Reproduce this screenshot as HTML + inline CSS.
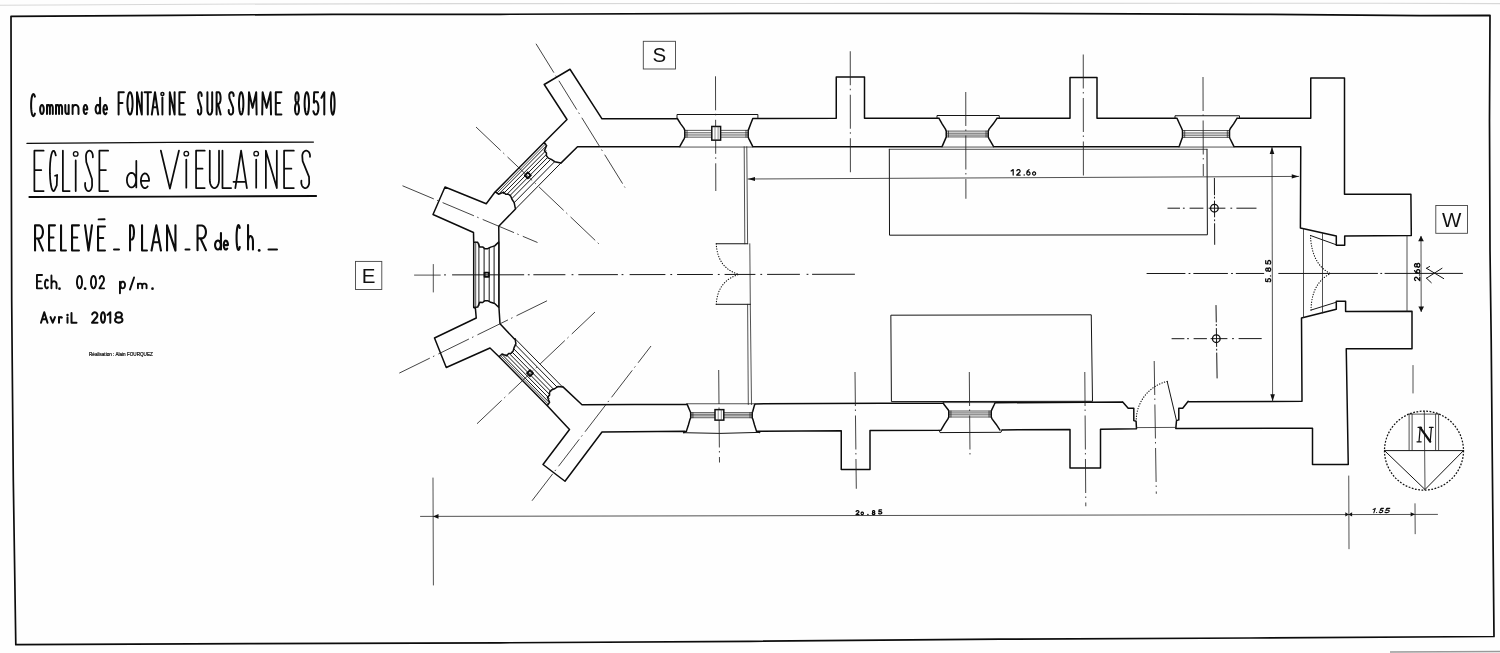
<!DOCTYPE html>
<html><head><meta charset="utf-8"><title>Eglise de Vieulaines - plan</title>
<style>html,body{margin:0;padding:0;background:#fefefe;}body{width:1500px;height:653px;overflow:hidden;font-family:"Liberation Sans",sans-serif;}svg{display:block}</style>
</head><body>
<svg style="will-change:transform" width="1500" height="653" viewBox="0 0 1500 653" font-family="Liberation Sans, sans-serif">
<desc>Commune de FONTAINE SUR SOMME 80510 - EGLISE de VIEULAINES - RELEVE PLAN R de Ch. - Ech. 0.02 p/m. - Avril 2018</desc>
<rect width="1500" height="653" fill="#fefefe"/>
<path d="M0 5.2 L200 4.2 L460 3.6 L1378 3.2 L1500 3.6" stroke="#d8d8d8" stroke-width="1.1" fill="none"/>
<path d="M1390 652 L1500 651.5" stroke="#999" stroke-width="1.5" fill="none"/>
<path d="M11.00 16.30 L170.00 15.30 L333.00 14.30 L500.00 14.30 L750.00 13.40 L1000.00 13.40 L1250.00 14.30 L1420.00 15.60 L1490.00 15.30 L1489.50 120.00 L1490.00 250.00 L1491.20 340.00 L1492.00 430.00 L1494.00 636.50 L1250.00 638.00 L1000.00 639.20 L750.00 641.30 L500.00 642.80 L250.00 643.60 L15.80 644.70 L13.30 480.00 L12.20 360.00 L11.70 300.00 L11.20 120.00Z" fill="none" stroke="#0c0c0c" stroke-width="1.7" stroke-linejoin="round" stroke-linecap="round" />
<path d="M544.30 142.30 L567.00 119.50 L544.25 84.50 L570.00 69.25 L602.00 118.80 L677.00 118.80 M560.90 163.10 L577.50 146.75 L679.80 146.60 M495.30 191.90 L495.00 192.00 L486.25 203.75 L445.00 187.00 L433.00 214.50 L473.50 232.50 L473.70 241.90 M515.50 209.00 L498.75 226.25 L498.90 241.90 M495.30 191.90 L498.64 194.21 L503.54 192.09 L505.70 194.18 L508.49 194.20 L510.78 196.15 L511.95 199.23 L514.17 202.68 L515.49 209.03 M544.30 142.30 L546.53 145.73 L544.42 150.72 L546.45 152.93 L546.44 155.79 L548.33 158.15 L551.34 159.37 L554.70 161.66 L560.90 163.06 M495.30 191.90 L544.30 142.30 M473.70 307.50 L477.70 307.10 L479.70 302.30 L482.70 302.50 L484.70 300.70 L487.70 300.70 L490.70 302.30 L494.70 303.50 L498.90 307.50 M473.70 241.90 L477.70 242.30 L479.70 247.10 L482.70 246.90 L484.70 248.70 L487.70 248.70 L490.70 247.10 L494.70 245.90 L498.90 241.90 M473.70 307.50 L473.70 241.90 M498.90 241.90 L498.90 307.50 M499.10 356.70 L490.00 348.00 L446.25 367.50 L434.50 338.00 L476.25 318.00 L475.40 308.40 L473.70 307.50 M498.90 306.70 L500.00 323.75 L514.40 339.10 M547.30 405.70 L549.57 402.30 L547.48 397.32 L549.53 395.13 L549.54 392.29 L551.45 389.95 L554.48 388.76 L557.87 386.50 L562.59 387.02 M499.10 356.70 L502.05 353.99 L506.74 355.91 L508.60 353.53 L511.20 353.31 L513.19 351.06 L514.07 347.68 L515.89 343.83 L515.09 338.73 M547.30 405.70 L499.10 356.70 M547.30 405.70 L569.50 429.50 L543.00 464.50 L565.00 481.25 L602.00 432.00 L685.00 431.30 M562.70 386.60 L582.00 404.70 L687.00 404.20 M677.30 118.50 L680.67 123.84 L684.00 128.39 L684.80 130.37 L684.80 137.15 L684.20 138.56 L680.40 145.34 L679.80 146.75 M752.80 118.50 L750.73 123.84 L749.00 128.39 L748.20 130.37 L748.20 137.15 L748.80 138.56 L752.20 145.34 L752.80 146.75 M752.80 118.50 L836.25 118.30 L836.25 77.00 L864.50 77.00 L864.50 118.30 L939.00 118.30 M752.80 146.75 L942.00 146.75 M939.00 118.30 L942.26 124.06 L945.45 129.11 L946.25 131.10 L946.25 136.93 L945.65 138.36 L942.60 145.33 L942.00 146.75 M997.00 118.30 L993.06 124.06 L989.05 129.11 L988.25 131.10 L988.25 136.93 L988.85 138.36 L992.90 145.33 L993.50 146.75 M997.00 118.30 L1070.00 118.30 L1070.00 77.50 L1097.00 77.50 L1097.00 118.30 L1177.00 118.30 M993.50 146.75 L1179.00 146.75 M1177.00 118.30 L1179.47 123.81 L1181.70 128.54 L1182.50 130.53 L1182.50 137.36 L1181.90 138.78 L1179.60 145.33 L1179.00 146.75 M1237.00 118.30 L1233.62 123.81 L1230.30 128.54 L1229.50 130.53 L1229.50 137.36 L1230.10 138.78 L1233.40 145.33 L1234.00 146.75 M1237.00 118.30 L1310.75 118.30 L1310.75 78.00 L1344.50 78.00 L1344.50 194.25 L1410.90 194.25 L1411.30 235.50 L1344.70 236.00 L1344.70 245.30 L1336.30 245.30 L1336.30 236.00 L1300.40 228.10 L1300.75 146.75 L1234.00 146.75 M1188.20 401.84 L1302.00 401.25 L1301.50 318.00 L1336.30 309.30 L1336.30 301.30 L1345.60 301.30 L1345.60 311.40 L1412.00 311.30 L1412.00 348.75 L1346.25 348.75 L1348.25 464.50 L1312.50 464.50 L1312.50 428.25 L1175.80 428.40 M1188.20 401.30 L1182.70 408.20 L1178.80 408.20 L1178.80 419.90 L1176.50 420.60 L1175.80 428.40 M1122.70 402.00 L1128.20 408.20 L1133.80 408.20 L1133.80 420.60 L1136.10 421.30 L1136.50 428.70 M1136.50 428.70 L1100.50 429.37 L1100.50 468.00 L1070.00 468.00 L1070.00 429.53 L1002.00 429.90 M1122.70 402.00 L995.00 402.75 M941.00 430.06 L944.49 424.18 L947.95 418.91 L948.75 417.01 L948.75 411.02 L948.15 409.66 L943.85 404.23 L943.25 402.87 M1000.00 430.06 L996.06 424.18 L992.05 418.91 L991.25 417.01 L991.25 411.02 L991.85 409.66 L994.40 404.23 L995.00 402.87 M941.00 430.21 L870.00 430.58 L870.00 469.50 L841.25 469.50 L841.25 430.74 L756.40 431.19 L759.60 432.50 M943.25 403.00 L755.00 403.88 M686.50 430.88 L688.39 424.96 L689.90 419.61 L690.70 417.73 L690.70 412.63 L690.10 411.29 L687.60 405.39 L687.00 404.05 M756.40 430.88 L754.51 424.96 L753.00 419.61 L752.20 417.73 L752.20 412.63 L752.80 411.29 L754.40 405.39 L755.00 404.05 M686.50 431.30 L683.80 432.70" fill="none" stroke="#0c0c0c" stroke-width="1.5" stroke-linejoin="round" stroke-linecap="round" />
<path d="M515.49 209.03 L560.90 163.06 M498.64 194.21 L546.53 145.73 M503.46 193.60 L545.89 150.65 M507.05 194.23 L546.48 154.32 M510.02 195.50 L547.70 157.36 M512.04 198.43 L550.55 159.45 M514.02 202.83 L554.84 161.51 M498.90 307.50 L498.90 241.90 M478.90 305.66 L478.90 243.74 M484.10 301.53 L484.10 247.87 M489.20 301.37 L489.20 248.03 M494.10 303.47 L494.10 245.93 M562.59 387.02 L515.09 338.73 M549.34 402.64 L501.75 354.26 M549.06 398.22 L505.81 354.26 M549.37 394.26 L509.41 353.64 M550.61 391.24 L512.08 352.07 M553.28 388.97 L513.97 349.00 M557.12 387.16 L515.34 344.69 M677.00 118.50 L677.00 114.50 L757.90 114.50 L757.90 118.50 M937.00 118.30 L937.00 115.50 L999.25 115.50 L999.25 118.30 M1175.00 118.30 L1175.00 115.75 L1239.50 115.75 L1239.50 118.30 M939.25 430.21 L940.00 432.60 L1001.00 432.30 L1002.00 429.90 M683.80 432.70 L720.00 433.40 L759.60 432.40 M1310.50 235.50 L1336.30 244.80 M1311.00 310.10 L1336.30 302.20 M716.25 243.75 L747.80 243.75 M716.25 304.30 L750.30 304.30 M1167.20 381.40 L1176.50 420.60 M889.30 149.30 L889.50 235.20 L1207.40 234.80 L1207.00 149.30 M891.25 315.20 L1091.25 314.80 L1092.50 401.30 L891.80 401.60Z M1426.50 268.30 L1443.70 278.60 M1442.00 268.30 L1426.50 278.20 M1426.50 268.30 L1429.60 266.50 M1426.50 278.20 L1431.30 282.70 M1384.50 450.60 L1463.50 450.60 M1384.50 450.60 L1425.00 489.50 L1463.50 450.60" fill="none" stroke="#151515" stroke-width="1.0" stroke-linejoin="round" stroke-linecap="round" />
<path d="M530.78 175.33 L527.79 172.38 L524.84 175.37 L527.83 178.32Z M488.80 272.60 L484.60 272.60 L484.60 276.80 L488.80 276.80Z M530.07 370.21 L527.07 373.16 L530.02 376.15 L533.01 373.21Z" fill="none" stroke="#0c0c0c" stroke-width="1.9" stroke-linejoin="round" stroke-linecap="round" />
<path d="M684.80 130.37 L748.20 130.37 M684.80 132.81 L748.20 132.81 M684.80 134.98 L748.20 134.98 M684.80 137.15 L748.20 137.15 M946.25 131.10 L988.25 131.10 M946.25 133.20 L988.25 133.20 M946.25 135.07 L988.25 135.07 M946.25 136.93 L988.25 136.93 M1182.50 130.53 L1229.50 130.53 M1182.50 132.99 L1229.50 132.99 M1182.50 135.18 L1229.50 135.18 M1182.50 137.36 L1229.50 137.36 M948.75 417.01 L991.25 417.01 M948.75 414.85 L991.25 414.85 M948.75 412.94 L991.25 412.94 M948.75 411.02 L991.25 411.02 M690.70 417.73 L752.20 417.73 M690.70 415.90 L752.20 415.90 M690.70 414.26 L752.20 414.26 M690.70 412.63 L752.20 412.63" fill="none" stroke="#111" stroke-width="0.7" stroke-linejoin="round" stroke-linecap="round" />
<path d="M496.97 193.06 L545.42 144.01 M475.70 307.30 L475.70 242.10 M548.32 404.17 L500.43 355.48 M687.00 130.37 L687.00 137.15 M746.00 130.37 L746.00 137.15 M679.80 147.05 L752.80 147.05 M948.45 131.10 L948.45 136.93 M986.05 131.10 L986.05 136.93 M942.00 147.05 L993.50 147.05 M1184.70 130.53 L1184.70 137.36 M1227.30 130.53 L1227.30 137.36 M1179.00 147.05 L1234.00 147.05 M950.95 417.01 L950.95 411.02 M989.05 417.01 L989.05 411.02 M943.25 402.57 L995.00 402.57 M692.90 417.73 L692.90 412.63 M750.00 417.73 L750.00 412.63 M687.00 403.75 L755.00 403.75 M1303.50 229.00 L1303.50 317.50 M1322.50 233.00 L1322.50 313.00 M1407.00 235.70 L1407.00 311.30 M744.20 146.75 L744.80 243.75 M746.80 146.75 L747.60 243.75 M749.80 243.75 L750.30 304.30 M747.60 304.30 L748.30 404.50 M750.30 304.30 L751.50 404.50 M1136.50 427.60 L1175.80 427.40 M889.30 149.30 L1207.00 149.30 M414.50 275.10 L440.30 275.10 M433.30 264.50 L433.30 292.00 M1413.00 365.50 L1413.00 393.00 M748.00 179.00 L1298.75 176.40 M1272.00 146.75 L1272.60 401.25 M420.50 516.40 L1437.50 514.40 M433.00 478.00 L433.40 585.00 M1348.75 476.00 L1349.00 548.75 M1415.00 503.75 L1415.20 533.75 M1421.00 236.50 L1421.20 311.50 M1424.30 411.20 L1425.00 489.50 M1409.10 414.10 L1409.10 450.40 M1412.10 414.10 L1412.10 450.40 M1435.60 414.10 L1435.60 450.40 M1438.60 414.10 L1438.60 450.40 M1409.10 414.10 L1438.60 414.10" fill="none" stroke="#262626" stroke-width="0.8" stroke-linejoin="round" stroke-linecap="round" />
<path d="M1310.50 235.50 L1310.64 238.30 L1310.88 241.01 L1311.20 243.62 L1311.62 246.14 L1312.12 248.57 L1312.71 250.90 L1313.39 253.13 L1314.16 255.28 L1315.02 257.32 L1315.97 259.27 L1317.01 261.13 L1318.14 262.90 L1319.36 264.56 L1320.67 266.14 L1322.07 267.62 L1323.56 269.00 L1325.13 270.29 L1326.80 271.49 L1328.55 272.59 L1330.40 273.60 M1311.00 310.10 L1311.10 307.43 L1311.28 304.86 L1311.56 302.37 L1311.94 299.97 L1312.40 297.66 L1312.96 295.43 L1313.60 293.30 L1314.34 291.25 L1315.18 289.29 L1316.10 287.43 L1317.12 285.64 L1318.22 283.95 L1319.42 282.35 L1320.72 280.83 L1322.10 279.41 L1323.58 278.07 L1325.14 276.82 L1326.80 275.66 L1328.56 274.58 L1330.40 273.60 M716.25 243.75 L716.42 246.13 L716.70 248.42 L717.07 250.62 L717.55 252.74 L718.12 254.76 L718.80 256.69 L719.58 258.54 L720.45 260.29 L721.42 261.96 L722.50 263.54 L723.68 265.03 L724.95 266.42 L726.33 267.73 L727.80 268.95 L729.38 270.08 L731.05 271.13 L732.82 272.08 L734.70 272.94 L736.68 273.72 L738.75 274.40 M716.25 304.30 L716.42 302.01 L716.70 299.81 L717.07 297.69 L717.55 295.65 L718.12 293.69 L718.80 291.82 L719.58 290.04 L720.45 288.33 L721.42 286.71 L722.50 285.17 L723.68 283.72 L724.95 282.35 L726.33 281.07 L727.80 279.86 L729.38 278.74 L731.05 277.71 L732.82 276.76 L734.70 275.89 L736.68 275.10 L738.75 274.40 M1167.20 381.39 L1165.50 381.83 L1163.83 382.34 L1162.18 382.93 L1160.55 383.59 L1158.96 384.32 L1157.40 385.11 L1155.88 385.98 L1154.39 386.91 L1152.95 387.90 L1151.55 388.95 L1150.20 390.07 L1148.90 391.24 L1147.65 392.47 L1146.45 393.75 L1145.31 395.08 L1144.23 396.46 L1143.21 397.88 L1142.26 399.35 L1141.37 400.86 L1140.54 402.40 L1139.79 403.98 L1139.10 405.59 L1138.48 407.23 L1137.94 408.90 L1137.46 410.58 L1137.07 412.29 L1136.74 414.01 L1136.49 415.75 L1136.32 417.49 L1136.22 419.24" fill="none" stroke="#111" stroke-width="1.15" stroke-linejoin="round" stroke-linecap="round" stroke-dasharray="0.3 2.3"/>
<path d="M1167.90 208.20 L1179.60 208.20 M1190.00 208.20 L1203.00 208.20 M1209.00 208.20 L1225.00 208.20 M1236.80 208.20 L1256.10 208.20 M1183.30 208.20 L1184.30 208.20 M1230.80 208.20 L1231.80 208.20 M1214.40 178.30 L1214.48 194.80 M1214.50 201.00 L1214.58 216.90 M1214.61 223.70 L1214.70 244.40 M1214.49 197.10 L1214.49 198.10 M1214.59 219.80 L1214.59 220.80 M1172.00 338.70 L1184.00 338.69 M1194.00 338.68 L1206.50 338.66 M1211.00 338.66 L1227.00 338.64 M1239.00 338.62 L1261.30 338.60 M1187.50 338.68 L1188.50 338.68 M1232.50 338.63 L1233.50 338.63 M1216.01 305.50 L1216.26 322.00 M1216.35 328.50 L1216.63 346.50 M1216.72 353.00 L1217.10 378.00 M1216.30 324.50 L1216.30 325.50 M1216.67 349.20 L1216.67 350.20 M452.50 274.89 L523.75 274.78 M533.75 274.76 L565.00 274.71 M578.75 274.69 L617.50 274.63 M630.00 274.61 L665.00 274.55 M677.50 274.53 L712.50 274.48 M725.00 274.46 L755.00 274.41 M767.50 274.39 L799.50 274.34 M812.50 274.32 L854.50 274.25 M444.50 274.90 L445.50 274.90 M528.25 274.77 L529.25 274.77 M572.00 274.70 L573.00 274.70 M622.00 274.62 L623.00 274.62 M670.75 274.54 L671.75 274.54 M718.25 274.47 L719.25 274.47 M760.75 274.40 L761.75 274.40 M807.00 274.33 L808.00 274.33 M1147.00 273.50 L1185.00 273.49 M1193.75 273.49 L1227.50 273.47 M1236.25 273.47 L1263.75 273.46 M1278.75 273.46 L1377.50 273.43 M1385.00 273.42 L1462.50 273.40 M1189.00 273.49 L1190.00 273.49 M1231.50 273.47 L1232.50 273.47 M1380.75 273.43 L1381.75 273.43" fill="none" stroke="#181818" stroke-width="1.0" stroke-linejoin="round" stroke-linecap="round" />
<path d="M715.50 76.30 L715.80 191.00 M850.25 51.25 L850.40 175.00 M965.75 92.00 L965.90 198.75 M1083.25 54.50 L1083.40 177.50 M1203.00 77.00 L1203.30 176.00 M718.70 370.00 L719.50 462.50 M855.00 372.00 L856.30 488.75 M969.30 372.00 L970.00 455.00 M1084.80 372.00 L1085.80 506.25 M1154.20 361.00 L1156.30 493.75 M536.00 43.75 L625.00 187.50 M476.00 127.00 L598.75 243.75 M402.50 185.75 L537.50 242.50 M399.30 373.10 L547.60 300.50 M477.00 423.75 L595.00 312.00 M532.00 500.75 L651.00 346.00" fill="none" stroke="#222" stroke-width="0.85" stroke-dasharray="34 3.5 1.5 4.5"/>
<polygon points="748.00,179.00 755.00,176.90 755.00,181.10" fill="#111"/>
<polygon points="1298.75,176.40 1291.75,178.50 1291.75,174.30" fill="#111"/>
<polygon points="1272.00,146.90 1274.30,153.90 1269.70,153.90" fill="#111"/>
<polygon points="1272.60,401.20 1270.30,394.20 1274.90,394.20" fill="#111"/>
<polygon points="433.00,516.40 438.50,514.10 438.50,518.70" fill="#111"/>
<polygon points="1348.90,514.40 1345.30,516.60 1345.30,512.20" fill="#111"/>
<polygon points="1348.50,514.40 1352.10,512.20 1352.10,516.60" fill="#111"/>
<polygon points="1415.00,514.30 1410.60,516.40 1410.60,512.20" fill="#111"/>
<polygon points="1421.00,235.80 1423.80,241.30 1418.20,241.30" fill="#111"/>
<polygon points="1421.20,312.00 1418.40,306.50 1424.00,306.50" fill="#111"/>
<circle cx="1214.4" cy="208.2" r="3.8" fill="none" stroke="#0c0c0c" stroke-width="1.3"/>
<circle cx="1216.3" cy="338.7" r="3.8" fill="none" stroke="#0c0c0c" stroke-width="1.3"/>
<circle cx="1424.0" cy="450.6" r="39.5" fill="none" stroke="#111" stroke-width="1.25" stroke-dasharray="1.8 1.5"/>
<rect x="643.3" y="41.3" width="32.200000000000045" height="27.700000000000003" fill="none" stroke="#444" stroke-width="0.9"/>
<text x="659.4" y="62.49" font-size="20.5" text-anchor="middle" fill="#111" opacity="0.995">S</text>
<rect x="355.5" y="261.4" width="26.30000000000001" height="28.100000000000023" fill="none" stroke="#444" stroke-width="0.9"/>
<text x="368.65" y="282.79" font-size="20.5" text-anchor="middle" fill="#111" opacity="0.995">E</text>
<rect x="1435.8" y="205.5" width="31.700000000000045" height="27.80000000000001" fill="none" stroke="#444" stroke-width="0.9"/>
<text x="1451.65" y="226.74" font-size="20.5" text-anchor="middle" fill="#111" opacity="0.995">W</text>
<rect x="711.80" y="126.47" width="8.8" height="13.68" fill="#fefefe" stroke="#111" stroke-width="1.5"/>
<path d="M715.00 126.47 V140.15 M718.10 126.47 V140.15" stroke="#444" stroke-width="0.6" fill="none"/>
<rect x="715.00" y="409.63" width="8.8" height="10.50" fill="#fefefe" stroke="#111" stroke-width="1.5"/>
<path d="M718.20 409.63 V420.13 M721.30 409.63 V420.13" stroke="#444" stroke-width="0.6" fill="none"/>
<path d="M34.88 96.60 L34.36 95.02 L33.78 94.15 L33.16 94.06 L32.57 94.75 L32.03 96.17 L31.59 98.23 L31.28 100.77 L31.12 103.62 L31.12 106.58 L31.28 109.43 L31.59 111.97 L32.03 114.03 L32.57 115.45 L33.16 116.14 L33.78 116.05 L34.36 115.18 L34.88 113.60 M43.80 109.45 L43.71 108.04 L43.45 106.78 L43.04 105.77 L42.52 105.12 L41.95 104.90 L41.38 105.12 L40.86 105.77 L40.45 106.78 L40.19 108.04 L40.10 109.45 L40.19 110.86 L40.45 112.12 L40.86 113.13 L41.38 113.78 L41.95 114.00 L42.52 113.78 L43.04 113.13 L43.45 112.12 L43.71 110.86 L43.80 109.45 M47.00 114.00 L47.00 104.90 M47.00 108.04 L47.00 108.04 L47.05 107.23 L47.19 106.47 L47.42 105.82 L47.73 105.32 L48.07 105.01 L48.45 104.90 L48.83 105.01 L49.17 105.32 L49.48 105.82 L49.71 106.47 L49.85 107.23 L49.90 108.04 L49.90 114.00 M49.90 108.04 L49.90 108.04 L49.95 107.23 L50.09 106.47 L50.32 105.82 L50.62 105.32 L50.97 105.01 L51.35 104.90 L51.73 105.01 L52.07 105.32 L52.38 105.82 L52.61 106.47 L52.75 107.23 L52.80 108.04 L52.80 114.00 M56.00 114.00 L56.00 104.90 M56.00 108.04 L56.00 108.04 L56.05 107.23 L56.20 106.47 L56.45 105.82 L56.76 105.32 L57.13 105.01 L57.52 104.90 L57.92 105.01 L58.29 105.32 L58.60 105.82 L58.85 106.47 L59.00 107.23 L59.05 108.04 L59.05 114.00 M59.05 108.04 L59.05 108.04 L59.10 107.23 L59.25 106.47 L59.50 105.82 L59.81 105.32 L60.18 105.01 L60.58 104.90 L60.97 105.01 L61.34 105.32 L61.65 105.82 L61.90 106.47 L62.05 107.23 L62.10 108.04 L62.10 114.00 M65.30 104.90 L65.30 110.69 L65.30 110.69 L65.36 111.55 L65.53 112.35 L65.80 113.03 L66.15 113.56 L66.56 113.89 L67.00 114.00 L67.44 113.89 L67.85 113.56 L68.20 113.03 L68.47 112.35 L68.64 111.55 L68.70 110.69 L68.70 104.90 M68.70 104.90 L68.70 114.00 M72.60 114.00 L72.60 104.90 M72.60 108.54 L72.60 108.54 L72.70 107.60 L73.00 106.72 L73.46 105.97 L74.08 105.39 L74.79 105.02 L75.55 104.90 L76.31 105.02 L77.03 105.39 L77.64 105.97 L78.10 106.72 L78.40 107.60 L78.50 108.54 L78.50 114.00 M83.67 109.45 L87.30 109.45 L87.30 109.45 L87.23 108.23 L87.04 107.11 L86.72 106.15 L86.32 105.43 L85.85 105.01 L85.35 104.91 L84.86 105.14 L84.42 105.68 L84.04 106.50 L83.77 107.53 L83.63 108.70 L83.61 109.93 L83.73 111.12 L83.97 112.19 L84.32 113.06 L84.76 113.67 L85.24 113.97 L85.74 113.94 L86.22 113.59 L86.64 112.94 M100.01 109.23 L99.90 107.88 L99.59 106.66 L99.10 105.69 L98.49 105.07 L97.80 104.86 L97.12 105.07 L96.51 105.69 L96.02 106.66 L95.71 107.88 L95.60 109.23 L95.71 110.58 L96.02 111.80 L96.51 112.76 L97.12 113.39 L97.80 113.60 L98.49 113.39 L99.10 112.76 L99.59 111.80 L99.90 110.58 L100.01 109.23 M100.11 97.70 L100.11 113.60 M103.47 109.59 L107.10 109.59 L107.10 109.59 L107.03 108.36 L106.84 107.22 L106.52 106.25 L106.12 105.53 L105.65 105.10 L105.15 105.00 L104.66 105.23 L104.22 105.78 L103.84 106.60 L103.57 107.65 L103.43 108.83 L103.41 110.08 L103.53 111.28 L103.77 112.37 L104.12 113.25 L104.56 113.86 L105.04 114.17 L105.54 114.14 L106.02 113.79 L106.44 113.12 M123.80 92.20 L118.60 92.20 L118.60 114.60 M118.60 102.95 L122.50 102.95 M132.60 103.40 L132.51 100.50 L132.25 97.80 L131.84 95.48 L131.30 93.70 L130.67 92.58 L130.00 92.20 L129.33 92.58 L128.70 93.70 L128.16 95.48 L127.75 97.80 L127.49 100.50 L127.40 103.40 L127.49 106.30 L127.75 109.00 L128.16 111.32 L128.70 113.10 L129.33 114.22 L130.00 114.60 L130.67 114.22 L131.30 113.10 L131.84 111.32 L132.25 109.00 L132.51 106.30 L132.60 103.40 M137.00 114.60 L137.00 92.20 L141.80 114.60 L141.80 92.20 M144.60 92.20 L151.00 92.20 M147.80 92.20 L147.80 114.60 M151.80 114.60 L155.00 92.20 L158.20 114.60 M153.08 107.21 L156.92 107.21 M162.40 97.58 L162.40 114.60 M169.80 114.60 L169.80 92.20 L174.60 114.60 L174.60 92.20 M185.00 92.20 L179.40 92.20 L179.40 114.60 L185.00 114.60 M179.40 102.95 L183.60 102.95 M201.65 95.88 L201.67 95.04 L201.57 94.22 L201.36 93.49 L201.04 92.88 L200.66 92.45 L200.22 92.23 L199.78 92.23 L199.34 92.45 L198.96 92.88 L198.64 93.49 L198.43 94.22 L198.33 95.04 L198.35 95.88 L198.48 98.47 L201.24 107.88 L201.29 110.39 L201.31 111.38 L201.20 112.33 L200.97 113.19 L200.63 113.88 L200.22 114.36 L199.76 114.58 L199.29 114.54 L198.84 114.23 L198.45 113.68 L198.15 112.93 L197.95 112.04 L197.88 111.06 L197.94 110.09 M207.40 92.20 L207.40 109.67 L207.40 109.67 L207.48 110.95 L207.72 112.14 L208.10 113.16 L208.60 113.94 L209.18 114.43 L209.80 114.60 L210.42 114.43 L211.00 113.94 L211.50 113.16 L211.88 112.14 L212.12 110.95 L212.20 109.67 L212.20 92.20 M216.60 114.60 L216.60 92.20 M216.60 92.20 L218.60 92.20 L218.60 92.20 L219.12 92.40 L219.60 92.98 L220.01 93.91 L220.33 95.11 L220.53 96.52 L220.60 98.02 L220.53 99.53 L220.33 100.94 L220.01 102.14 L219.60 103.07 L219.12 103.65 L218.60 103.85 L216.60 103.85 M218.00 103.85 L220.60 114.60 M233.61 95.88 L233.63 95.04 L233.50 94.22 L233.22 93.49 L232.82 92.88 L232.32 92.45 L231.75 92.23 L231.17 92.23 L230.60 92.45 L230.10 92.88 L229.70 93.49 L229.42 94.22 L229.29 95.04 L229.31 95.88 L229.48 98.47 L233.07 107.88 L233.14 110.39 L233.16 111.38 L233.02 112.33 L232.72 113.19 L232.28 113.88 L231.75 114.36 L231.15 114.58 L230.54 114.54 L229.95 114.23 L229.45 113.68 L229.05 112.93 L228.80 112.04 L228.70 111.06 L228.78 110.09 M243.40 103.40 L243.33 100.50 L243.11 97.80 L242.76 95.48 L242.30 93.70 L241.77 92.58 L241.20 92.20 L240.63 92.58 L240.10 93.70 L239.64 95.48 L239.29 97.80 L239.07 100.50 L239.00 103.40 L239.07 106.30 L239.29 109.00 L239.64 111.32 L240.10 113.10 L240.63 114.22 L241.20 114.60 L241.77 114.22 L242.30 113.10 L242.76 111.32 L243.11 109.00 L243.33 106.30 L243.40 103.40 M248.60 114.60 L249.00 92.20 L252.60 107.88 L256.20 92.20 L256.60 114.60 M262.20 114.60 L262.64 92.20 L266.60 107.88 L270.56 92.20 L271.00 114.60 M281.40 92.20 L275.80 92.20 L275.80 114.60 L281.40 114.60 M275.80 102.95 L280.00 102.95 M298.68 97.58 L298.60 95.91 L298.36 94.42 L297.99 93.23 L297.52 92.46 L297.00 92.20 L296.48 92.46 L296.01 93.23 L295.64 94.42 L295.40 95.91 L295.32 97.58 L295.40 99.24 L295.64 100.74 L296.01 101.93 L296.48 102.69 L297.00 102.95 L297.52 102.69 L297.99 101.93 L298.36 100.74 L298.60 99.24 L298.68 97.58 M299.00 108.78 L298.90 106.98 L298.62 105.35 L298.18 104.06 L297.62 103.24 L297.00 102.95 L296.38 103.24 L295.82 104.06 L295.38 105.35 L295.10 106.98 L295.00 108.78 L295.10 110.58 L295.38 112.20 L295.82 113.49 L296.38 114.31 L297.00 114.60 L297.62 114.31 L298.18 113.49 L298.62 112.20 L298.90 110.58 L299.00 108.78 M309.00 103.40 L308.93 100.50 L308.71 97.80 L308.36 95.48 L307.90 93.70 L307.37 92.58 L306.80 92.20 L306.23 92.58 L305.70 93.70 L305.24 95.48 L304.89 97.80 L304.67 100.50 L304.60 103.40 L304.67 106.30 L304.89 109.00 L305.24 111.32 L305.70 113.10 L306.23 114.22 L306.80 114.60 L307.37 114.22 L307.90 113.10 L308.36 111.32 L308.71 109.00 L308.93 106.30 L309.00 103.40 M318.08 92.20 L314.18 92.20 L313.82 102.28 L314.00 102.73 L314.62 101.76 L315.32 101.24 L316.05 101.21 L316.76 101.66 L317.40 102.57 L317.91 103.87 L318.26 105.46 L318.43 107.23 L318.40 109.05 L318.18 110.78 L317.78 112.30 L317.23 113.49 L316.57 114.28 L315.84 114.59 L315.12 114.42 L314.43 113.76 L313.85 112.68 L313.40 111.24 M321.50 97.80 L324.30 92.20 L324.30 114.60 M334.60 103.40 L334.54 100.50 L334.36 97.80 L334.07 95.48 L333.70 93.70 L333.27 92.58 L332.80 92.20 L332.33 92.58 L331.90 93.70 L331.53 95.48 L331.24 97.80 L331.06 100.50 L331.00 103.40 L331.06 106.30 L331.24 109.00 L331.53 111.32 L331.90 113.10 L332.33 114.22 L332.80 114.60 L333.27 114.22 L333.70 113.10 L334.07 111.32 L334.36 109.00 L334.54 106.30 L334.60 103.40" fill="none" stroke="#0c0c0c" stroke-width="2.0" stroke-linecap="round" stroke-linejoin="round"/>
<circle cx="162.40" cy="93.99" r="1.50" fill="none" stroke="#0c0c0c" stroke-width="1.50"/>
<path d="M43.62 150.68 L34.38 150.68 L34.38 191.12 L43.62 191.12 M34.38 170.09 L41.31 170.09 M55.83 155.41 L55.01 152.52 L54.09 150.95 L53.13 150.78 L52.19 152.05 L51.34 154.66 L50.65 158.41 L50.16 163.06 L49.91 168.26 L49.91 173.65 L50.17 178.84 L50.66 183.47 L51.36 187.21 L52.20 189.79 L53.14 191.03 L54.11 190.84 L55.03 189.23 L56.76 185.46 L57.12 174.94 L55.09 175.75 M62.88 150.68 L62.88 191.12 L69.62 191.12 M75.70 160.38 L75.70 191.12 M92.82 157.32 L92.86 155.81 L92.65 154.33 L92.21 153.00 L91.57 151.90 L90.77 151.13 L89.88 150.73 L88.95 150.73 L88.05 151.13 L87.26 151.90 L86.61 153.00 L86.17 154.33 L85.96 155.81 L86.00 157.32 L86.28 162.00 L91.97 178.99 L92.08 183.53 L92.12 185.30 L91.89 187.03 L91.41 188.58 L90.72 189.83 L89.87 190.69 L88.92 191.10 L87.95 191.02 L87.02 190.46 L86.22 189.47 L85.59 188.11 L85.19 186.50 L85.04 184.74 L85.16 182.98 M108.12 150.68 L99.38 150.68 L99.38 191.12 L108.12 191.12 M99.38 170.09 L105.94 170.09 M136.10 180.12 L135.87 177.87 L135.22 175.83 L134.20 174.22 L132.91 173.18 L131.49 172.82 L130.06 173.18 L128.78 174.22 L127.76 175.83 L127.10 177.87 L126.88 180.12 L127.10 182.38 L127.76 184.42 L128.78 186.03 L130.06 187.07 L131.49 187.43 L132.91 187.07 L134.20 186.03 L135.22 184.42 L135.87 182.38 L136.10 180.12 M136.31 160.88 L136.31 187.43 M141.04 180.77 L149.12 180.77 L149.12 180.77 L148.97 178.80 L148.54 176.98 L147.84 175.43 L146.94 174.27 L145.89 173.59 L144.78 173.42 L143.69 173.79 L142.69 174.67 L141.86 175.99 L141.26 177.66 L140.93 179.55 L140.90 181.54 L141.16 183.46 L141.71 185.20 L142.49 186.60 L143.45 187.59 L144.53 188.08 L145.65 188.03 L146.71 187.46 L147.65 186.40 M160.88 150.68 L169.90 188.62 L178.93 150.68 M186.30 159.57 L186.30 187.72 M204.72 150.68 L196.07 150.68 L196.07 188.12 L204.72 188.12 M196.07 168.65 L202.56 168.65 M209.78 150.68 L209.78 179.89 L209.78 179.89 L209.93 182.02 L210.39 184.01 L211.13 185.71 L212.09 187.02 L213.20 187.84 L214.40 188.12 L215.60 187.84 L216.71 187.02 L217.67 185.71 L218.41 184.01 L218.87 182.02 L219.03 179.89 L219.03 150.68 M222.47 150.68 L222.47 188.12 L231.12 188.12 M235.31 188.12 L241.10 150.68 L246.89 188.12 M233.47 181.76 L244.91 181.76 M256.20 159.57 L256.20 187.72 M265.88 188.12 L265.88 150.68 L276.82 188.12 L276.82 150.68 M293.82 150.68 L284.07 150.68 L284.07 188.12 L293.82 188.12 M284.07 168.65 L291.39 168.65 M309.99 156.83 L310.03 155.43 L309.80 154.06 L309.30 152.82 L308.58 151.81 L307.69 151.09 L306.68 150.72 L305.64 150.72 L304.64 151.09 L303.75 151.81 L303.03 152.82 L302.53 154.06 L302.29 155.43 L302.34 156.83 L302.65 161.16 L309.03 176.89 L309.15 181.09 L309.19 182.74 L308.94 184.33 L308.40 185.76 L307.63 186.92 L306.67 187.72 L305.61 188.10 L304.52 188.03 L303.48 187.51 L302.58 186.59 L301.88 185.34 L301.42 183.84 L301.26 182.21 L301.40 180.58" fill="none" stroke="#0c0c0c" stroke-width="1.75" stroke-linecap="round" stroke-linejoin="round"/>
<circle cx="75.70" cy="153.91" r="2.30" fill="none" stroke="#0c0c0c" stroke-width="1.31"/>
<circle cx="186.30" cy="153.64" r="2.30" fill="none" stroke="#0c0c0c" stroke-width="1.31"/>
<circle cx="256.20" cy="153.64" r="2.30" fill="none" stroke="#0c0c0c" stroke-width="1.31"/>
<path d="M27.0 143.4 L170 142.4 L313.4 142.1" stroke="#0c0c0c" stroke-width="1.35" fill="none" stroke-linecap="round"/>
<path d="M29.3 197.0 L170 196.6 L316.2 196.0" stroke="#0c0c0c" stroke-width="1.8" fill="none" stroke-linecap="round"/>
<path d="M35.05 250.55 L35.05 225.35 M35.05 225.35 L39.00 225.35 L39.00 225.35 L40.02 225.57 L40.98 226.23 L41.79 227.27 L42.42 228.63 L42.82 230.21 L42.95 231.90 L42.82 233.60 L42.42 235.18 L41.79 236.53 L40.98 237.58 L40.02 238.23 L39.00 238.45 L35.05 238.45 M37.81 238.45 L42.95 250.55 M54.95 225.35 L49.05 225.35 L49.05 250.55 L54.95 250.55 M49.05 237.45 L53.48 237.45 M61.05 225.35 L61.05 250.55 L65.95 250.55 M78.95 225.35 L72.05 225.35 L72.05 250.55 L78.95 250.55 M72.05 237.45 L77.22 237.45 M85.05 225.35 L88.50 250.55 L91.95 225.35 M104.95 226.55 L98.05 226.55 L98.05 250.55 L104.95 250.55 M98.05 238.07 L103.22 238.07 M114.05 249.54 L118.95 249.54 M130.05 250.55 L130.05 225.35 M130.05 225.35 L132.00 225.35 L132.00 225.35 L132.50 225.59 L132.97 226.30 L133.38 227.42 L133.69 228.88 L133.88 230.58 L133.95 232.41 L133.88 234.23 L133.69 235.93 L133.38 237.40 L132.97 238.52 L132.50 239.22 L132.00 239.46 L130.05 239.46 M142.05 225.35 L142.05 250.55 L146.95 250.55 M151.55 250.55 L156.25 225.35 L160.95 250.55 M153.43 242.23 L159.07 242.23 M167.05 250.55 L167.05 225.35 L175.45 250.55 L175.45 225.35 M185.55 249.54 L189.45 249.54 M197.55 250.25 L197.55 225.55 M197.55 225.55 L201.75 225.55 L201.75 225.55 L202.84 225.77 L203.85 226.41 L204.72 227.43 L205.39 228.76 L205.81 230.31 L205.95 231.97 L205.81 233.63 L205.39 235.18 L204.72 236.51 L203.85 237.53 L202.84 238.18 L201.75 238.39 L197.55 238.39 M200.49 238.39 L205.95 250.25 M220.81 245.01 L220.67 243.61 L220.26 242.35 L219.62 241.34 L218.82 240.70 L217.93 240.47 L217.04 240.70 L216.24 241.34 L215.60 242.35 L215.19 243.61 L215.05 245.01 L215.19 246.41 L215.60 247.68 L216.24 248.68 L217.04 249.33 L217.93 249.55 L218.82 249.33 L219.62 248.68 L220.26 247.68 L220.67 246.41 L220.81 245.01 M220.94 233.05 L220.94 249.55 M223.83 245.08 L227.95 245.08 L227.95 245.08 L227.87 243.88 L227.65 242.77 L227.30 241.83 L226.84 241.13 L226.30 240.71 L225.74 240.61 L225.18 240.84 L224.68 241.37 L224.25 242.17 L223.95 243.19 L223.78 244.34 L223.76 245.55 L223.90 246.72 L224.17 247.77 L224.57 248.63 L225.06 249.22 L225.61 249.52 L226.18 249.49 L226.72 249.15 L227.20 248.50 M239.75 227.96 L239.32 226.19 L238.82 225.22 L238.30 225.12 L237.80 225.89 L237.34 227.49 L236.97 229.79 L236.70 232.65 L236.57 235.84 L236.57 239.16 L236.70 242.35 L236.97 245.21 L237.34 247.51 L237.80 249.11 L238.30 249.88 L238.82 249.78 L239.32 248.81 L239.75 247.04 M248.05 225.05 L248.05 249.55 M248.05 241.47 L248.05 241.47 L248.13 240.07 L248.38 238.77 L248.77 237.65 L249.28 236.80 L249.87 236.26 L250.50 236.07 L251.13 236.26 L251.72 236.80 L252.23 237.65 L252.62 238.77 L252.87 240.07 L252.95 241.47 L252.95 249.55 M268.55 249.54 L276.95 249.54" fill="none" stroke="#0c0c0c" stroke-width="2.1" stroke-linecap="round" stroke-linejoin="round"/>
<circle cx="259.20" cy="250.38" r="1.40" fill="#0c0c0c"/>
<path d="M98.6 219.4 L104.6 219.2" stroke="#0c0c0c" stroke-width="1.9" fill="none" stroke-linecap="round"/>
<path d="M42.05 274.95 L36.95 274.95 L36.95 288.35 L42.05 288.35 M36.95 281.38 L40.77 281.38 M47.91 280.62 L47.50 280.00 L47.04 279.65 L46.57 279.62 L46.10 279.89 L45.68 280.45 L45.34 281.26 L45.09 282.27 L44.97 283.39 L44.97 284.56 L45.09 285.68 L45.34 286.68 L45.68 287.49 L46.10 288.05 L46.57 288.33 L47.04 288.29 L47.50 287.95 L47.91 287.33 M51.45 275.45 L51.45 288.35 M51.45 284.09 L51.45 284.09 L51.54 283.36 L51.79 282.67 L52.20 282.09 L52.73 281.64 L53.34 281.35 L54.00 281.25 L54.66 281.35 L55.27 281.64 L55.80 282.09 L56.21 282.67 L56.46 283.36 L56.55 284.09 L56.55 288.35 M82.05 282.15 L81.96 280.55 L81.71 279.05 L81.30 277.77 L80.78 276.78 L80.16 276.16 L79.50 275.95 L78.84 276.16 L78.23 276.78 L77.70 277.77 L77.29 279.05 L77.04 280.55 L76.95 282.15 L77.04 283.75 L77.29 285.25 L77.70 286.53 L78.22 287.52 L78.84 288.14 L79.50 288.35 L80.16 288.14 L80.78 287.52 L81.30 286.53 L81.71 285.25 L81.96 283.75 L82.05 282.15 M96.05 282.15 L95.96 280.55 L95.71 279.05 L95.30 277.77 L94.78 276.78 L94.16 276.16 L93.50 275.95 L92.84 276.16 L92.23 276.78 L91.70 277.77 L91.29 279.05 L91.04 280.55 L90.95 282.15 L91.04 283.75 L91.29 285.25 L91.70 286.53 L92.22 287.52 L92.84 288.14 L93.50 288.35 L94.16 288.14 L94.78 287.52 L95.30 286.53 L95.71 285.25 L95.96 283.75 L96.05 282.15 M99.62 278.52 L99.84 277.69 L100.19 276.97 L100.65 276.42 L101.18 276.07 L101.75 275.95 L102.32 276.07 L102.85 276.42 L103.31 276.97 L103.66 277.69 L103.88 278.52 L103.96 279.42 L103.88 280.32 L103.66 281.16 L103.31 281.88 L99.45 288.35 L104.05 288.35 M119.95 281.60 L119.95 293.26 M125.05 284.97 L124.94 283.93 L124.61 282.99 L124.10 282.24 L123.46 281.76 L122.75 281.60 L122.05 281.76 L121.41 282.24 L120.90 282.99 L120.57 283.93 L120.46 284.97 L120.57 286.02 L120.90 286.96 L121.41 287.70 L122.05 288.18 L122.75 288.35 L123.46 288.18 L124.10 287.70 L124.61 286.96 L124.94 286.02 L125.05 284.97 M129.95 289.63 L134.05 277.45 M137.95 288.35 L137.95 283.60 M137.95 285.24 L137.95 285.24 L138.02 284.81 L138.24 284.42 L138.58 284.08 L139.03 283.82 L139.54 283.65 L140.10 283.60 L140.66 283.65 L141.18 283.82 L141.62 284.08 L141.96 284.42 L142.18 284.81 L142.25 285.24 L142.25 288.35 M142.25 285.24 L142.25 285.24 L142.32 284.81 L142.54 284.42 L142.88 284.08 L143.32 283.82 L143.84 283.65 L144.40 283.60 L144.96 283.65 L145.48 283.82 L145.92 284.08 L146.26 284.42 L146.48 284.81 L146.55 285.24 L146.55 288.35" fill="none" stroke="#0c0c0c" stroke-width="1.9" stroke-linecap="round" stroke-linejoin="round"/>
<circle cx="59.50" cy="288.63" r="1.35" fill="#0c0c0c"/>
<circle cx="85.10" cy="288.63" r="1.35" fill="#0c0c0c"/>
<circle cx="152.50" cy="288.63" r="1.35" fill="#0c0c0c"/>
<path d="M41.00 322.70 L44.25 312.30 L47.50 322.70 M42.30 319.27 L46.20 319.27 M50.50 317.10 L52.75 322.70 L55.00 317.10 M59.00 317.10 L59.00 322.70 M59.00 319.34 L59.00 319.34 L59.07 318.71 L59.27 318.14 L59.60 317.66 L60.01 317.31 L60.48 317.13 L60.98 317.12 L61.45 317.29 L61.87 317.62 M67.50 317.60 L67.50 322.70 M71.50 313.00 L71.50 322.70 L76.50 322.70 M92.20 314.46 L92.46 313.76 L92.88 313.15 L93.43 312.69 L94.07 312.40 L94.75 312.30 L95.43 312.40 L96.07 312.69 L96.62 313.15 L97.04 313.76 L97.30 314.46 L97.39 315.21 L97.30 315.97 L97.04 316.67 L96.62 317.27 L92.00 322.70 L97.50 322.70 M105.00 317.50 L104.93 316.15 L104.73 314.90 L104.41 313.82 L104.00 313.00 L103.52 312.48 L103.00 312.30 L102.48 312.48 L102.00 313.00 L101.59 313.82 L101.27 314.90 L101.07 316.15 L101.00 317.50 L101.07 318.85 L101.27 320.10 L101.59 321.18 L102.00 322.00 L102.48 322.52 L103.00 322.70 L103.52 322.52 L104.00 322.00 L104.41 321.18 L104.73 320.10 L104.93 318.85 L105.00 317.50 M107.50 314.90 L110.30 312.30 L110.30 322.70 M121.90 314.80 L121.75 314.02 L121.30 313.33 L120.60 312.78 L119.72 312.42 L118.75 312.30 L117.78 312.42 L116.90 312.78 L116.20 313.33 L115.75 314.02 L115.60 314.80 L115.75 315.57 L116.20 316.26 L116.90 316.82 L117.78 317.17 L118.75 317.29 L119.72 317.17 L120.60 316.82 L121.30 316.26 L121.75 315.57 L121.90 314.80 M122.50 320.00 L122.32 319.16 L121.78 318.41 L120.95 317.81 L119.91 317.42 L118.75 317.29 L117.59 317.42 L116.55 317.81 L115.72 318.41 L115.18 319.16 L115.00 320.00 L115.18 320.83 L115.72 321.59 L116.55 322.18 L117.59 322.57 L118.75 322.70 L119.91 322.57 L120.95 322.18 L121.78 321.59 L122.32 320.83 L122.50 320.00" fill="none" stroke="#0c0c0c" stroke-width="2.0" stroke-linecap="round" stroke-linejoin="round"/>
<circle cx="67.50" cy="315.10" r="1.25" fill="#0c0c0c"/>
<text x="89" y="355.6" font-size="4.6" fill="#000" stroke="#000" stroke-width="0.18" opacity="0.995" textLength="63.8" lengthAdjust="spacingAndGlyphs">Réalisation : Alain FOURQUEZ</text>
<path d="M1011.12 170.99 L1013.19 169.62 L1013.19 175.07 M1016.85 170.76 L1017.02 170.39 L1017.28 170.07 L1017.62 169.83 L1018.02 169.68 L1018.45 169.62 L1018.88 169.68 L1019.28 169.83 L1019.62 170.07 L1019.88 170.39 L1020.05 170.76 L1020.11 171.15 L1020.05 171.55 L1019.88 171.91 L1019.62 172.23 L1016.73 175.07 L1020.17 175.07 M1029.97 173.44 L1029.90 172.93 L1029.67 172.48 L1029.33 172.12 L1028.89 171.89 L1028.40 171.81 L1027.91 171.89 L1027.47 172.12 L1027.13 172.48 L1026.90 172.93 L1026.83 173.44 L1026.90 173.95 L1027.13 174.40 L1027.47 174.76 L1027.91 174.99 L1028.40 175.07 L1028.89 174.99 L1029.33 174.76 L1029.67 174.40 L1029.90 173.95 L1029.97 173.44 M1026.83 173.44 L1027.14 171.26 L1029.03 169.62 M1035.58 173.50 L1035.52 173.09 L1035.38 172.71 L1035.14 172.39 L1034.84 172.14 L1034.48 171.98 L1034.10 171.93 L1033.72 171.98 L1033.36 172.14 L1033.06 172.39 L1032.82 172.71 L1032.68 173.09 L1032.62 173.50 L1032.68 173.91 L1032.82 174.29 L1033.06 174.61 L1033.36 174.86 L1033.72 175.02 L1034.10 175.07 L1034.48 175.02 L1034.84 174.86 L1035.14 174.61 L1035.38 174.29 L1035.52 173.91 L1035.58 173.50" fill="none" stroke="#0c0c0c" stroke-width="1.25" stroke-linecap="round" stroke-linejoin="round"/>
<circle cx="1024.20" cy="174.91" r="0.75" fill="#0c0c0c"/>
<path d="M856.16 511.48 L856.29 511.21 L856.52 510.98 L856.80 510.80 L857.14 510.69 L857.50 510.65 L857.86 510.69 L858.20 510.80 L858.48 510.98 L858.71 511.21 L858.84 511.48 L858.89 511.77 L858.84 512.06 L858.71 512.33 L858.48 512.56 L856.05 514.65 L858.95 514.65 M863.35 513.35 L863.31 513.01 L863.20 512.70 L863.03 512.43 L862.80 512.22 L862.53 512.09 L862.25 512.05 L861.97 512.09 L861.70 512.22 L861.47 512.43 L861.30 512.70 L861.19 513.01 L861.15 513.35 L861.19 513.69 L861.30 514.00 L861.47 514.27 L861.70 514.48 L861.97 514.61 L862.25 514.65 L862.53 514.61 L862.80 514.48 L863.03 514.27 L863.20 514.00 L863.31 513.69 L863.35 513.35 M874.65 511.61 L874.60 511.31 L874.45 511.05 L874.22 510.83 L873.92 510.70 L873.60 510.65 L873.28 510.70 L872.98 510.83 L872.75 511.05 L872.60 511.31 L872.55 511.61 L872.60 511.91 L872.75 512.17 L872.98 512.39 L873.28 512.52 L873.60 512.57 L873.92 512.52 L874.22 512.39 L874.45 512.17 L874.60 511.91 L874.65 511.61 M874.85 513.61 L874.79 513.29 L874.61 513.00 L874.33 512.77 L873.99 512.62 L873.60 512.57 L873.21 512.62 L872.87 512.77 L872.59 513.00 L872.41 513.29 L872.35 513.61 L872.41 513.93 L872.59 514.22 L872.87 514.45 L873.21 514.60 L873.60 514.65 L873.99 514.60 L874.33 514.45 L874.61 514.22 L874.79 513.93 L874.85 513.61 M881.53 509.95 L879.13 509.95 L878.91 511.75 L879.02 511.83 L879.40 511.66 L879.83 511.56 L880.28 511.56 L880.72 511.64 L881.11 511.80 L881.42 512.03 L881.64 512.32 L881.75 512.63 L881.73 512.96 L881.59 513.27 L881.34 513.54 L881.00 513.75 L880.60 513.89 L880.15 513.95 L879.71 513.92 L879.29 513.80 L878.92 513.61 L878.65 513.35" fill="none" stroke="#0c0c0c" stroke-width="1.3" stroke-linecap="round" stroke-linejoin="round"/>
<circle cx="867.90" cy="514.51" r="0.80" fill="#0c0c0c"/>
<g transform="translate(1371.4 513.2) skewX(-18)"><path d="M0.55 -3.78 L2.30 -4.85 L2.30 -0.55 M10.52 -4.85 L8.04 -4.85 L7.81 -2.92 L7.93 -2.83 L8.32 -3.01 L8.77 -3.11 L9.23 -3.12 L9.68 -3.03 L10.09 -2.86 L10.41 -2.61 L10.64 -2.30 L10.74 -1.96 L10.72 -1.62 L10.58 -1.28 L10.33 -0.99 L9.98 -0.76 L9.56 -0.61 L9.10 -0.55 L8.64 -0.58 L8.21 -0.71 L7.83 -0.92 L7.55 -1.20 M16.84 -4.85 L13.77 -4.85 L13.48 -2.92 L13.62 -2.83 L14.11 -3.01 L14.67 -3.11 L15.24 -3.12 L15.80 -3.03 L16.30 -2.86 L16.71 -2.61 L16.98 -2.30 L17.12 -1.96 L17.09 -1.62 L16.92 -1.28 L16.60 -0.99 L16.17 -0.76 L15.65 -0.61 L15.08 -0.55 L14.50 -0.58 L13.97 -0.71 L13.50 -0.92 L13.15 -1.20" fill="none" stroke="#0c0c0c" stroke-width="1.1" stroke-linecap="round" stroke-linejoin="round"/><circle cx="5.00" cy="-0.68" r="0.60" fill="#0c0c0c"/></g>
<g transform="translate(1271.3 282.4) rotate(-90)"><path d="M3.55 -5.58 L1.11 -5.58 L0.89 -3.35 L1.00 -3.25 L1.39 -3.46 L1.83 -3.58 L2.28 -3.58 L2.73 -3.48 L3.12 -3.28 L3.44 -3.00 L3.66 -2.64 L3.77 -2.25 L3.75 -1.85 L3.61 -1.47 L3.36 -1.13 L3.02 -0.87 L2.60 -0.70 L2.15 -0.63 L1.70 -0.67 L1.27 -0.81 L0.90 -1.05 L0.62 -1.37 M14.29 -4.39 L14.22 -4.75 L14.01 -5.09 L13.68 -5.35 L13.26 -5.52 L12.80 -5.58 L12.34 -5.52 L11.92 -5.35 L11.59 -5.09 L11.38 -4.75 L11.31 -4.39 L11.38 -4.02 L11.59 -3.69 L11.92 -3.43 L12.34 -3.26 L12.80 -3.20 L13.26 -3.26 L13.68 -3.43 L14.01 -3.69 L14.22 -4.02 L14.29 -4.39 M14.57 -1.91 L14.49 -2.31 L14.24 -2.67 L13.84 -2.95 L13.35 -3.14 L12.80 -3.20 L12.25 -3.14 L11.76 -2.95 L11.36 -2.67 L11.11 -2.31 L11.03 -1.91 L11.11 -1.51 L11.36 -1.16 L11.76 -0.87 L12.25 -0.69 L12.80 -0.62 L13.35 -0.69 L13.84 -0.87 L14.24 -1.16 L14.49 -1.51 L14.57 -1.91 M21.69 -5.58 L18.80 -5.58 L18.53 -3.35 L18.67 -3.25 L19.13 -3.46 L19.65 -3.58 L20.19 -3.58 L20.71 -3.48 L21.18 -3.28 L21.56 -3.00 L21.83 -2.64 L21.95 -2.25 L21.93 -1.85 L21.76 -1.47 L21.47 -1.13 L21.06 -0.87 L20.57 -0.70 L20.04 -0.63 L19.50 -0.67 L18.99 -0.81 L18.56 -1.05 L18.22 -1.37" fill="none" stroke="#0c0c0c" stroke-width="1.25" stroke-linecap="round" stroke-linejoin="round"/><circle cx="6.50" cy="-0.77" r="0.70" fill="#0c0c0c"/></g>
<g transform="translate(1420.4 281.3) rotate(-90)"><path d="M0.78 -4.77 L0.95 -5.12 L1.21 -5.42 L1.56 -5.65 L1.97 -5.80 L2.40 -5.85 L2.83 -5.80 L3.24 -5.65 L3.59 -5.42 L3.85 -5.12 L4.02 -4.77 L4.08 -4.39 L4.02 -4.02 L3.85 -3.67 L3.59 -3.36 L0.65 -0.65 L4.15 -0.65 M11.75 -2.21 L11.66 -2.69 L11.41 -3.13 L11.01 -3.47 L10.51 -3.69 L9.95 -3.77 L9.39 -3.69 L8.89 -3.47 L8.49 -3.13 L8.24 -2.69 L8.15 -2.21 L8.24 -1.73 L8.49 -1.29 L8.89 -0.95 L9.39 -0.73 L9.95 -0.65 L10.51 -0.73 L11.01 -0.95 L11.41 -1.29 L11.66 -1.73 L11.75 -2.21 M8.15 -2.21 L8.51 -4.29 L10.67 -5.85 M17.64 -4.60 L17.56 -4.99 L17.33 -5.34 L16.96 -5.61 L16.51 -5.79 L16.00 -5.85 L15.49 -5.79 L15.04 -5.61 L14.67 -5.34 L14.44 -4.99 L14.36 -4.60 L14.44 -4.22 L14.67 -3.87 L15.04 -3.59 L15.49 -3.42 L16.00 -3.35 L16.51 -3.42 L16.96 -3.59 L17.33 -3.87 L17.56 -4.22 L17.64 -4.60 M17.95 -2.00 L17.85 -2.42 L17.58 -2.80 L17.15 -3.10 L16.60 -3.29 L16.00 -3.35 L15.40 -3.29 L14.85 -3.10 L14.42 -2.80 L14.15 -2.42 L14.05 -2.00 L14.15 -1.58 L14.42 -1.21 L14.85 -0.91 L15.40 -0.72 L16.00 -0.65 L16.60 -0.72 L17.15 -0.91 L17.58 -1.21 L17.85 -1.58 L17.95 -2.00" fill="none" stroke="#0c0c0c" stroke-width="1.3" stroke-linecap="round" stroke-linejoin="round"/><circle cx="6.20" cy="-0.81" r="0.75" fill="#0c0c0c"/></g>
<path d="M1419.0 441.6 L1420.2 427.6 M1430.2 441.6 L1431.4 427.6 M1417.0 441.8 L1421.2 441.8 M1418.0 427.3 L1421.6 427.3 M1429.4 427.3 L1433.2 427.3" fill="none" stroke="#111" stroke-width="1.2" stroke-linecap="round"/>
<path d="M1420.2 427.6 L1430.2 441.6" fill="none" stroke="#111" stroke-width="2.3" stroke-linecap="round"/>
</svg>
</body></html>
